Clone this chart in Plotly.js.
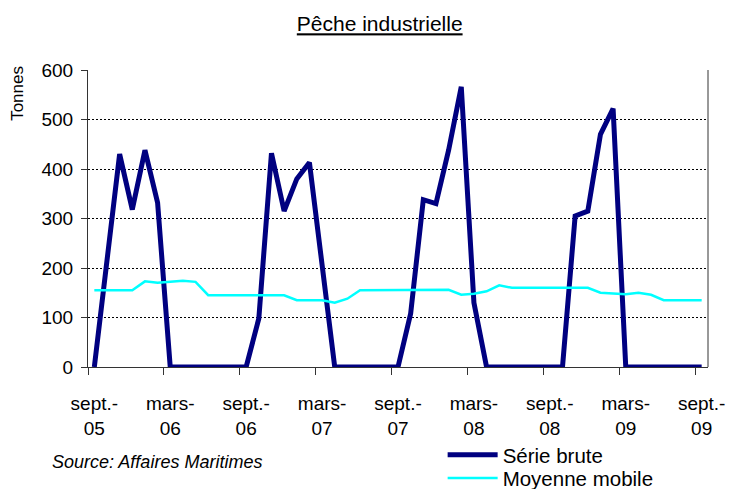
<!DOCTYPE html>
<html>
<head>
<meta charset="utf-8">
<script src="https://cdn.plot.ly/plotly-3.0.1.min.js"></script>
<style>html,body{margin:0;padding:0;background:#fff}#chart{width:730px;height:489px}</style>
</head>
<body>
<div id="chart"></div>
<script>
// Monthly categories sept-05 .. sept-09 (49 months)
const months = ["sept.-05","oct.-05","nov.-05","déc.-05","janv.-06","févr.-06","mars-06","avr.-06","mai-06","juin-06","juil.-06","août-06",
"sept.-06","oct.-06","nov.-06","déc.-06","janv.-07","févr.-07","mars-07","avr.-07","mai-07","juin-07","juil.-07","août-07",
"sept.-07","oct.-07","nov.-07","déc.-07","janv.-08","févr.-08","mars-08","avr.-08","mai-08","juin-08","juil.-08","août-08",
"sept.-08","oct.-08","nov.-08","déc.-08","janv.-09","févr.-09","mars-09","avr.-09","mai-09","juin-09","juil.-09","août-09","sept.-09"];

const serieBrute = [0,210,430,318,438,332,0,0,0,0,0,0,
0,98,432,315,380,413,200,0,0,0,0,0,
0,108,338,330,438,566,130,0,0,0,0,0,
0,0,305,315,470,522,0,0,0,0,0,0,0];

const moyenneMobile = [155,155,155,155,173,170,172,174,172,145,145,145,
145,145,145,145,135,135,135,130,138,155,155,155,
155,155,155,155,156,146,148,153,165,160,160,160,
160,160,160,160,150,148,147,150,146,135,135,135,135];

const tickLabels = ["sept.-<br>05","mars-<br>06","sept.-<br>06","mars-<br>07","sept.-<br>07","mars-<br>08","sept.-<br>08","mars-<br>09","sept.-<br>09"];

const idx = months.map((m,i)=>i);
const labelIdx = idx.filter(i=>i%6===0);
const boundaryTicks = labelIdx.map(i=>i-0.5);

const font = "Liberation Sans, Arial, sans-serif";

const traces = [
  {x: idx, y: serieBrute, name: "Série brute", type: "scatter", mode: "lines",
   line: {color: "#000080", width: 5}, hoverinfo: "y", legend: "legend"},
  {x: idx, y: moyenneMobile, name: "Moyenne mobile", type: "scatter", mode: "lines",
   line: {color: "#00FFFF", width: 2.5}, hoverinfo: "y", legend: "legend2"}
];

const legendFont = {family: font, size: 20.5, color: "#000"};

const layout = {
  width: 730, height: 489,
  margin: {l: 88, r: 22, t: 70, b: 122, pad: 0, autoexpand: false},
  paper_bgcolor: "#fff", plot_bgcolor: "#fff",
  font: {family: font, color: "#000"},
  title: {text: "<u>Pêche industrielle</u>", font: {family: font, size: 21, color: "#000"},
          x: 0.4705, xref: "paper", xanchor: "center", y: 0.951, yref: "container", yanchor: "middle"},
  xaxis: {
    range: [-0.5, 48.5], tickmode: "array", tickvals: labelIdx, ticktext: tickLabels,
    ticks: "", showgrid: false, zeroline: false,
    showline: true, linecolor: "#333", linewidth: 1,
    tickfont: {family: font, size: 19, color: "#000"},
    ticklabelstandoff: 19,
    minor: {tickmode: "array", tickvals: boundaryTicks, ticks: "outside", ticklen: 7, tickcolor: "#333", tickwidth: 1, showgrid: false}
  },
  yaxis: {
    range: [0, 600], dtick: 100, tick0: 0,
    ticks: "outside", ticklen: 6, tickcolor: "#333",
    showline: true, linecolor: "#333", linewidth: 1,
    showgrid: true, gridcolor: "#000", gridwidth: 1, griddash: "2px,2px",
    zeroline: false,
    tickfont: {family: font, size: 19, color: "#000"},
    ticklabelstandoff: 4
  },
  showlegend: true,
  legend: {x: 0.572, xanchor: "left", y: -0.296, yanchor: "middle", bgcolor: "rgba(0,0,0,0)",
           font: legendFont, itemwidth: 50},
  legend2: {x: 0.572, xanchor: "left", y: -0.374, yanchor: "middle", bgcolor: "rgba(0,0,0,0)",
           font: legendFont, itemwidth: 50},
  shapes: [
    {type: "line", xref: "paper", yref: "paper", x0: 1, x1: 1, y0: 0, y1: 1, line: {color: "#333", width: 1}}
  ],
  annotations: [
    {text: "Tonnes", textangle: -90, xref: "paper", yref: "paper", x: -0.115, y: 0.922,
     xanchor: "center", yanchor: "middle", showarrow: false, font: {family: font, size: 17, color: "#000"}},
    {text: "<i>Source: Affaires Maritimes</i>", xref: "paper", yref: "paper", x: -0.062, y: -0.32,
     xanchor: "left", yanchor: "middle", showarrow: false, font: {family: font, size: 18, color: "#000"}}
  ]
};

Plotly.newPlot("chart", traces, layout, {displayModeBar: false, staticPlot: true});
</script>
</body>
</html>
